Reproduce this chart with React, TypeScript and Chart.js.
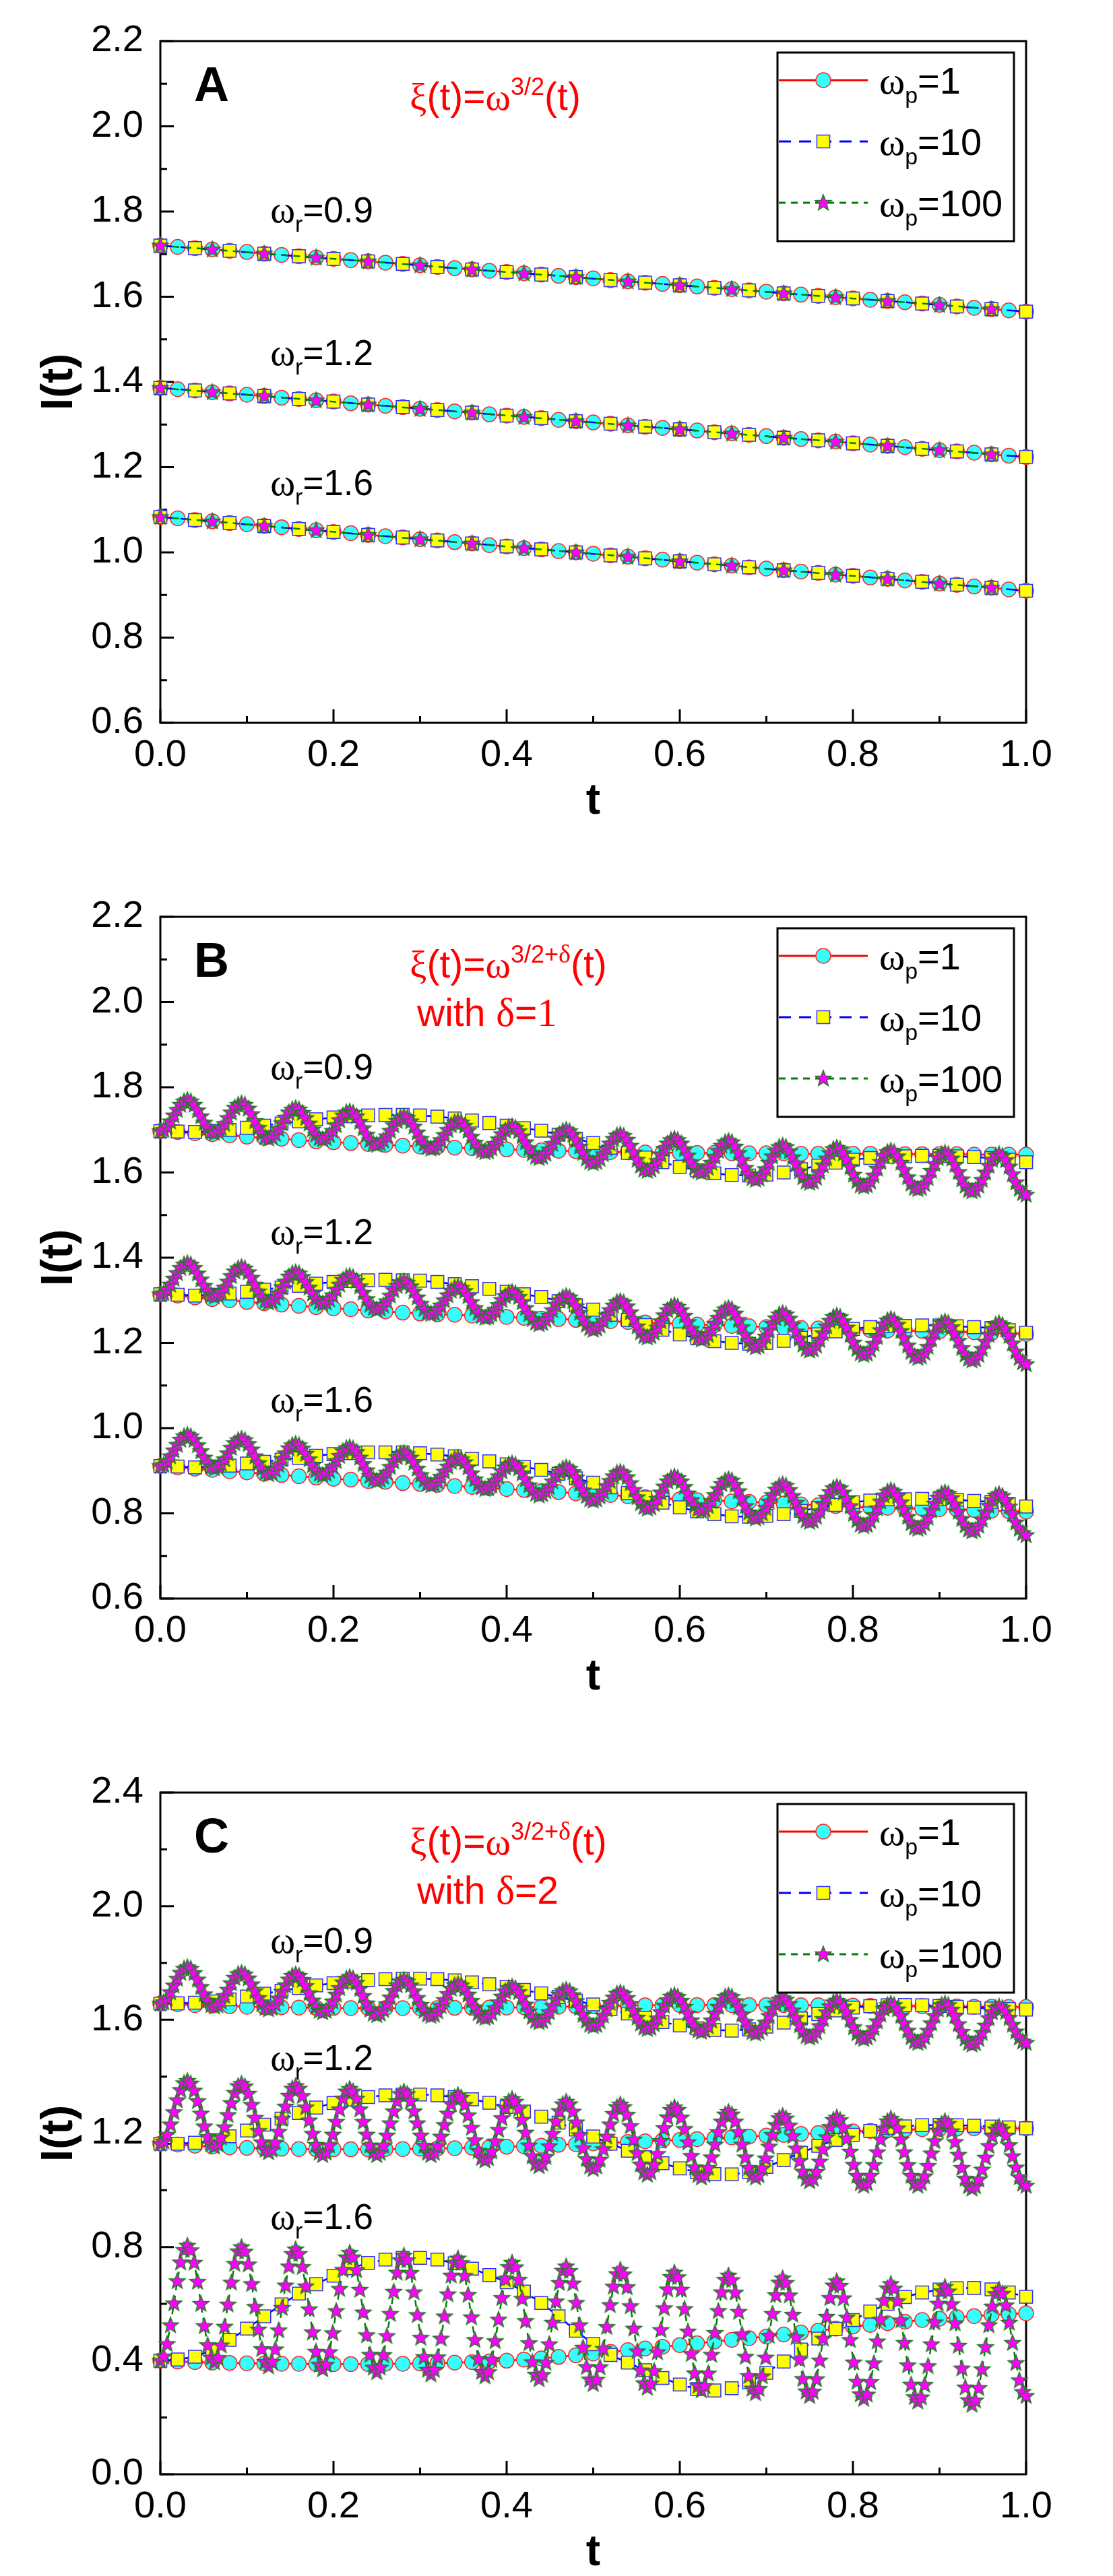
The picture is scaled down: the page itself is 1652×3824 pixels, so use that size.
import React, { useEffect, useRef } from 'react'
import { Chart, registerables } from 'chart.js'
import { drawPoint } from 'chart.js/helpers'

Chart.register(...registerables)

const SANS = '"Liberation Sans", Arial, sans-serif'
const SERIF = '"Liberation Serif", "Times New Roman", serif'

// sampling grids in t
const grid = (h: number, n: number) => Array.from({ length: n }, (_, i) => Math.round(i * h * 1e6) / 1e6)
const T_02 = grid(0.02, 51)
const T_04 = grid(0.04, 26)
const T_06 = grid(0.06, 17)
const T_STAR = grid(1 / 256, 257)

const OMEGA_P = ['1', '10', '100']
const OMEGA_R = ['0.9', '1.2', '1.6']

// ---------- panel A : xi = w^{3/2}
const A_CIRCLE_09 = [
  1.720, 1.717, 1.714, 1.711, 1.708, 1.705, 1.701, 1.698, 1.695, 1.692,
  1.689, 1.686, 1.683, 1.680, 1.677, 1.674, 1.670, 1.667, 1.664, 1.661,
  1.658, 1.655, 1.652, 1.649, 1.646, 1.643, 1.639, 1.636, 1.633, 1.630,
  1.627, 1.624, 1.621, 1.618, 1.615, 1.612, 1.608, 1.605, 1.602, 1.599,
  1.596, 1.593, 1.590, 1.587, 1.584, 1.581, 1.577, 1.574, 1.571, 1.568,
  1.565,
]
const A_SQUARE_09 = [
  1.720, 1.714, 1.708, 1.701, 1.695, 1.689, 1.683, 1.677, 1.670, 1.664,
  1.658, 1.652, 1.646, 1.639, 1.633, 1.627, 1.621, 1.615, 1.608, 1.602,
  1.596, 1.590, 1.584, 1.577, 1.571, 1.565,
]
const A_STAR_09 = [
  1.720, 1.711, 1.701, 1.692, 1.683, 1.674, 1.664, 1.655, 1.646, 1.636,
  1.627, 1.618, 1.608, 1.599, 1.590, 1.581, 1.571,
]
const A_CIRCLE_12 = [
  1.386, 1.383, 1.380, 1.376, 1.373, 1.370, 1.367, 1.363, 1.360, 1.357,
  1.354, 1.350, 1.347, 1.344, 1.341, 1.337, 1.334, 1.331, 1.328, 1.324,
  1.321, 1.318, 1.315, 1.311, 1.308, 1.305, 1.302, 1.298, 1.295, 1.292,
  1.289, 1.286, 1.282, 1.279, 1.276, 1.273, 1.269, 1.266, 1.263, 1.260,
  1.256, 1.253, 1.250, 1.247, 1.243, 1.240, 1.237, 1.234, 1.230, 1.227,
  1.224,
]
const A_SQUARE_12 = [
  1.386, 1.380, 1.373, 1.367, 1.360, 1.354, 1.347, 1.341, 1.334, 1.328,
  1.321, 1.315, 1.308, 1.302, 1.295, 1.289, 1.282, 1.276, 1.269, 1.263,
  1.256, 1.250, 1.243, 1.237, 1.230, 1.224,
]
const A_STAR_12 = [
  1.386, 1.376, 1.367, 1.357, 1.347, 1.337, 1.328, 1.318, 1.308, 1.298,
  1.289, 1.279, 1.269, 1.260, 1.250, 1.240, 1.230,
]
const A_CIRCLE_16 = [
  1.083, 1.080, 1.076, 1.073, 1.069, 1.066, 1.062, 1.059, 1.055, 1.052,
  1.048, 1.045, 1.041, 1.038, 1.035, 1.031, 1.028, 1.024, 1.021, 1.017,
  1.014, 1.010, 1.007, 1.003, 1.000, 0.997, 0.993, 0.990, 0.986, 0.983,
  0.979, 0.976, 0.972, 0.969, 0.965, 0.962, 0.958, 0.955, 0.952, 0.948,
  0.945, 0.941, 0.938, 0.934, 0.931, 0.927, 0.924, 0.920, 0.917, 0.913,
  0.910,
]
const A_SQUARE_16 = [
  1.083, 1.076, 1.069, 1.062, 1.055, 1.048, 1.041, 1.035, 1.028, 1.021,
  1.014, 1.007, 1.000, 0.993, 0.986, 0.979, 0.972, 0.965, 0.958, 0.952,
  0.945, 0.938, 0.931, 0.924, 0.917, 0.910,
]
const A_STAR_16 = [
  1.083, 1.073, 1.062, 1.052, 1.041, 1.031, 1.021, 1.010, 1.000, 0.990,
  0.979, 0.969, 0.958, 0.948, 0.938, 0.927, 0.917,
]

// ---------- panel B : delta = 1
const B_CIRCLE_09 = [
  1.697, 1.695, 1.692, 1.690, 1.687, 1.684, 1.681, 1.679, 1.676, 1.673,
  1.671, 1.669, 1.667, 1.665, 1.663, 1.661, 1.660, 1.658, 1.657, 1.655,
  1.654, 1.653, 1.652, 1.651, 1.650, 1.649, 1.648, 1.648, 1.647, 1.647,
  1.646, 1.646, 1.646, 1.645, 1.645, 1.645, 1.645, 1.644, 1.644, 1.644,
  1.644, 1.644, 1.643, 1.643, 1.643, 1.643, 1.643, 1.642, 1.642, 1.642,
  1.642,
]
const B_CIRCLE_12 = [
  1.314, 1.311, 1.307, 1.303, 1.300, 1.296, 1.293, 1.290, 1.287, 1.284,
  1.281, 1.279, 1.276, 1.274, 1.271, 1.269, 1.267, 1.266, 1.264, 1.263,
  1.261, 1.259, 1.257, 1.256, 1.254, 1.252, 1.251, 1.249, 1.248, 1.246,
  1.245, 1.243, 1.242, 1.240, 1.239, 1.237, 1.236, 1.235, 1.234, 1.232,
  1.231, 1.230, 1.229, 1.229, 1.228, 1.227, 1.226, 1.225, 1.223, 1.222,
  1.221,
]
const B_CIRCLE_16 = [
  0.911, 0.908, 0.905, 0.902, 0.899, 0.896, 0.893, 0.890, 0.887, 0.884,
  0.881, 0.879, 0.876, 0.874, 0.871, 0.869, 0.867, 0.864, 0.862, 0.859,
  0.857, 0.855, 0.852, 0.850, 0.847, 0.845, 0.843, 0.840, 0.838, 0.835,
  0.833, 0.831, 0.830, 0.828, 0.827, 0.825, 0.823, 0.821, 0.819, 0.817,
  0.815, 0.814, 0.813, 0.812, 0.811, 0.810, 0.809, 0.808, 0.806, 0.805,
  0.804,
]
const B_SQUARE_09 = [
  1.697, 1.696, 1.695, 1.697, 1.700, 1.705, 1.710, 1.715, 1.720, 1.725,
  1.729, 1.732, 1.734, 1.735, 1.735, 1.734, 1.731, 1.727, 1.722, 1.716,
  1.710, 1.704, 1.698, 1.689, 1.679, 1.669, 1.658, 1.646, 1.635, 1.624,
  1.613, 1.605, 1.598, 1.594, 1.593, 1.595, 1.600, 1.608, 1.616, 1.623,
  1.630, 1.634, 1.637, 1.638, 1.639, 1.639, 1.638, 1.636, 1.634, 1.630,
  1.624,
]
const B_SQUARE_12 = [
  1.314, 1.313, 1.311, 1.313, 1.316, 1.320, 1.325, 1.330, 1.334, 1.339,
  1.343, 1.345, 1.347, 1.348, 1.347, 1.346, 1.343, 1.338, 1.333, 1.327,
  1.320, 1.314, 1.308, 1.298, 1.288, 1.278, 1.266, 1.254, 1.242, 1.231,
  1.220, 1.211, 1.204, 1.200, 1.198, 1.200, 1.205, 1.212, 1.220, 1.227,
  1.233, 1.237, 1.240, 1.240, 1.241, 1.241, 1.239, 1.237, 1.235, 1.230,
  1.224,
]
const B_SQUARE_16 = [
  0.911, 0.910, 0.908, 0.910, 0.912, 0.917, 0.921, 0.926, 0.930, 0.935,
  0.939, 0.941, 0.943, 0.943, 0.943, 0.941, 0.938, 0.934, 0.928, 0.922,
  0.915, 0.909, 0.902, 0.893, 0.882, 0.872, 0.861, 0.848, 0.837, 0.825,
  0.814, 0.805, 0.798, 0.793, 0.792, 0.794, 0.798, 0.806, 0.813, 0.820,
  0.826, 0.830, 0.833, 0.833, 0.834, 0.833, 0.832, 0.829, 0.827, 0.822,
  0.816,
]
// stars: 16 samples per fast oscillation
const B_STAR_09 = [
  1.697, 1.700, 1.708, 1.720, 1.734, 1.747, 1.759, 1.767, 1.770, 1.767, 1.759, 1.746, 1.732, 1.717, 1.704, 1.696,
  1.693, 1.696, 1.703, 1.714, 1.728, 1.741, 1.752, 1.759, 1.762, 1.759, 1.750, 1.737, 1.721, 1.705, 1.692, 1.683,
  1.680, 1.683, 1.690, 1.702, 1.716, 1.729, 1.741, 1.748, 1.751, 1.748, 1.740, 1.728, 1.715, 1.701, 1.689, 1.681,
  1.678, 1.681, 1.688, 1.698, 1.711, 1.723, 1.734, 1.741, 1.743, 1.740, 1.732, 1.719, 1.704, 1.689, 1.676, 1.668,
  1.665, 1.668, 1.675, 1.685, 1.698, 1.711, 1.721, 1.729, 1.731, 1.728, 1.720, 1.708, 1.694, 1.679, 1.667, 1.659,
  1.656, 1.658, 1.665, 1.676, 1.688, 1.700, 1.711, 1.718, 1.720, 1.717, 1.710, 1.698, 1.684, 1.670, 1.659, 1.651,
  1.648, 1.650, 1.657, 1.667, 1.678, 1.690, 1.699, 1.706, 1.708, 1.705, 1.697, 1.685, 1.671, 1.657, 1.645, 1.637,
  1.634, 1.637, 1.644, 1.654, 1.667, 1.680, 1.690, 1.697, 1.700, 1.697, 1.689, 1.676, 1.661, 1.646, 1.633, 1.625,
  1.622, 1.625, 1.632, 1.643, 1.656, 1.668, 1.679, 1.687, 1.689, 1.686, 1.677, 1.663, 1.647, 1.630, 1.616, 1.607,
  1.604, 1.607, 1.615, 1.627, 1.642, 1.656, 1.668, 1.676, 1.679, 1.676, 1.668, 1.655, 1.640, 1.624, 1.612, 1.603,
  1.600, 1.603, 1.611, 1.623, 1.637, 1.651, 1.663, 1.671, 1.674, 1.671, 1.661, 1.646, 1.629, 1.611, 1.596, 1.587,
  1.583, 1.586, 1.595, 1.608, 1.623, 1.638, 1.651, 1.660, 1.663, 1.660, 1.650, 1.636, 1.620, 1.603, 1.589, 1.579,
  1.576, 1.579, 1.588, 1.601, 1.617, 1.633, 1.646, 1.655, 1.658, 1.655, 1.645, 1.630, 1.613, 1.595, 1.580, 1.570,
  1.567, 1.570, 1.579, 1.593, 1.609, 1.625, 1.639, 1.648, 1.651, 1.648, 1.638, 1.623, 1.606, 1.589, 1.574, 1.564,
  1.561, 1.564, 1.573, 1.587, 1.604, 1.620, 1.634, 1.643, 1.646, 1.643, 1.633, 1.618, 1.601, 1.584, 1.569, 1.559,
  1.556, 1.559, 1.569, 1.583, 1.600, 1.616, 1.630, 1.640, 1.643, 1.639, 1.629, 1.614, 1.596, 1.577, 1.562, 1.552,
  1.548,
]
const B_STAR_12 = [
  1.314, 1.317, 1.325, 1.337, 1.351, 1.364, 1.376, 1.384, 1.387, 1.384, 1.376, 1.363, 1.349, 1.334, 1.321, 1.313,
  1.309, 1.312, 1.319, 1.330, 1.344, 1.357, 1.368, 1.375, 1.378, 1.375, 1.366, 1.353, 1.337, 1.321, 1.308, 1.299,
  1.295, 1.298, 1.305, 1.317, 1.331, 1.344, 1.356, 1.363, 1.366, 1.363, 1.355, 1.343, 1.330, 1.316, 1.304, 1.296,
  1.292, 1.295, 1.302, 1.312, 1.325, 1.337, 1.348, 1.355, 1.357, 1.354, 1.346, 1.333, 1.318, 1.303, 1.290, 1.282,
  1.278, 1.281, 1.288, 1.298, 1.311, 1.324, 1.334, 1.342, 1.344, 1.341, 1.333, 1.321, 1.307, 1.292, 1.280, 1.272,
  1.268, 1.270, 1.277, 1.288, 1.300, 1.312, 1.323, 1.330, 1.332, 1.329, 1.322, 1.310, 1.296, 1.282, 1.271, 1.263,
  1.259, 1.261, 1.268, 1.278, 1.289, 1.301, 1.310, 1.317, 1.319, 1.316, 1.308, 1.296, 1.282, 1.268, 1.256, 1.248,
  1.244, 1.247, 1.254, 1.264, 1.277, 1.290, 1.300, 1.307, 1.310, 1.307, 1.299, 1.286, 1.271, 1.256, 1.243, 1.235,
  1.231, 1.234, 1.241, 1.252, 1.265, 1.277, 1.288, 1.296, 1.298, 1.295, 1.286, 1.272, 1.256, 1.239, 1.225, 1.216,
  1.213, 1.216, 1.224, 1.236, 1.251, 1.265, 1.277, 1.285, 1.288, 1.285, 1.277, 1.264, 1.249, 1.233, 1.221, 1.212,
  1.208, 1.211, 1.219, 1.231, 1.245, 1.259, 1.271, 1.279, 1.282, 1.279, 1.269, 1.254, 1.237, 1.219, 1.204, 1.195,
  1.190, 1.193, 1.202, 1.215, 1.230, 1.245, 1.258, 1.267, 1.270, 1.267, 1.257, 1.243, 1.227, 1.210, 1.196, 1.186,
  1.182, 1.185, 1.194, 1.207, 1.223, 1.239, 1.252, 1.261, 1.264, 1.261, 1.251, 1.236, 1.219, 1.201, 1.186, 1.176,
  1.172, 1.175, 1.184, 1.198, 1.214, 1.230, 1.244, 1.253, 1.256, 1.253, 1.243, 1.228, 1.211, 1.194, 1.179, 1.169,
  1.165, 1.168, 1.177, 1.191, 1.208, 1.224, 1.238, 1.247, 1.250, 1.247, 1.237, 1.222, 1.205, 1.188, 1.173, 1.163,
  1.159, 1.162, 1.172, 1.186, 1.203, 1.219, 1.233, 1.243, 1.246, 1.242, 1.232, 1.217, 1.199, 1.180, 1.165, 1.155,
  1.150,
]
const B_STAR_16 = [
  0.911, 0.914, 0.922, 0.934, 0.948, 0.961, 0.973, 0.981, 0.984, 0.981, 0.973, 0.960, 0.946, 0.931, 0.918, 0.910,
  0.906, 0.909, 0.916, 0.927, 0.941, 0.954, 0.965, 0.972, 0.975, 0.972, 0.963, 0.950, 0.934, 0.918, 0.905, 0.896,
  0.892, 0.895, 0.902, 0.914, 0.928, 0.941, 0.953, 0.960, 0.963, 0.960, 0.952, 0.940, 0.927, 0.913, 0.901, 0.893,
  0.890, 0.893, 0.900, 0.910, 0.923, 0.935, 0.946, 0.953, 0.955, 0.952, 0.944, 0.931, 0.916, 0.901, 0.888, 0.880,
  0.876, 0.879, 0.886, 0.896, 0.909, 0.922, 0.932, 0.940, 0.942, 0.939, 0.931, 0.919, 0.905, 0.890, 0.878, 0.870,
  0.866, 0.868, 0.875, 0.886, 0.898, 0.910, 0.921, 0.928, 0.930, 0.927, 0.920, 0.908, 0.894, 0.880, 0.869, 0.861,
  0.857, 0.859, 0.866, 0.876, 0.887, 0.899, 0.908, 0.915, 0.917, 0.914, 0.906, 0.894, 0.880, 0.866, 0.854, 0.846,
  0.842, 0.845, 0.852, 0.862, 0.875, 0.888, 0.898, 0.905, 0.908, 0.905, 0.897, 0.884, 0.869, 0.854, 0.841, 0.833,
  0.830, 0.833, 0.840, 0.851, 0.864, 0.876, 0.887, 0.895, 0.897, 0.894, 0.885, 0.871, 0.855, 0.838, 0.824, 0.815,
  0.811, 0.814, 0.822, 0.834, 0.849, 0.863, 0.875, 0.883, 0.886, 0.883, 0.875, 0.862, 0.847, 0.831, 0.819, 0.810,
  0.806, 0.809, 0.817, 0.829, 0.843, 0.857, 0.869, 0.877, 0.880, 0.877, 0.867, 0.852, 0.835, 0.817, 0.802, 0.793,
  0.788, 0.791, 0.800, 0.813, 0.828, 0.843, 0.856, 0.865, 0.868, 0.865, 0.855, 0.841, 0.825, 0.808, 0.794, 0.784,
  0.780, 0.783, 0.792, 0.805, 0.821, 0.837, 0.850, 0.859, 0.862, 0.859, 0.849, 0.834, 0.817, 0.799, 0.784, 0.774,
  0.770, 0.773, 0.782, 0.796, 0.812, 0.828, 0.842, 0.851, 0.854, 0.851, 0.841, 0.826, 0.809, 0.792, 0.777, 0.767,
  0.764, 0.767, 0.776, 0.790, 0.807, 0.823, 0.837, 0.846, 0.849, 0.846, 0.836, 0.821, 0.804, 0.787, 0.772, 0.762,
  0.758, 0.761, 0.771, 0.785, 0.802, 0.818, 0.832, 0.842, 0.845, 0.841, 0.831, 0.816, 0.798, 0.779, 0.764, 0.754,
  0.749,
]

// ---------- panel C : delta = 2
const C_CIRCLE_09 = [
  1.657, 1.655, 1.652, 1.650, 1.648, 1.646, 1.645, 1.644, 1.643, 1.642,
  1.642, 1.641, 1.641, 1.641, 1.641, 1.641, 1.641, 1.642, 1.642, 1.643,
  1.643, 1.644, 1.645, 1.646, 1.647, 1.648, 1.649, 1.650, 1.651, 1.651,
  1.652, 1.652, 1.652, 1.652, 1.652, 1.652, 1.652, 1.651, 1.651, 1.650,
  1.650, 1.649, 1.649, 1.648, 1.648, 1.647, 1.647, 1.646, 1.646, 1.645,
  1.645,
]
const C_CIRCLE_12 = [
  1.164, 1.161, 1.157, 1.154, 1.151, 1.149, 1.147, 1.146, 1.145, 1.144,
  1.144, 1.144, 1.144, 1.145, 1.145, 1.146, 1.147, 1.148, 1.150, 1.151,
  1.153, 1.155, 1.157, 1.160, 1.162, 1.165, 1.167, 1.170, 1.172, 1.175,
  1.177, 1.180, 1.183, 1.186, 1.189, 1.192, 1.195, 1.198, 1.201, 1.204,
  1.207, 1.209, 1.211, 1.213, 1.215, 1.216, 1.217, 1.218, 1.218, 1.218,
  1.218,
]
const C_CIRCLE_16 = [
  0.400, 0.397, 0.395, 0.393, 0.392, 0.391, 0.390, 0.389, 0.389, 0.388,
  0.388, 0.388, 0.388, 0.389, 0.389, 0.390, 0.391, 0.393, 0.395, 0.397,
  0.400, 0.404, 0.408, 0.413, 0.419, 0.425, 0.431, 0.437, 0.443, 0.449,
  0.455, 0.461, 0.467, 0.473, 0.479, 0.485, 0.492, 0.499, 0.506, 0.513,
  0.520, 0.526, 0.532, 0.537, 0.543, 0.548, 0.553, 0.557, 0.561, 0.564,
  0.567,
]
const C_SQUARE_09 = [
  1.657, 1.658, 1.660, 1.665, 1.672, 1.682, 1.692, 1.702, 1.712, 1.721,
  1.729, 1.735, 1.740, 1.743, 1.745, 1.745, 1.743, 1.739, 1.732, 1.725,
  1.716, 1.705, 1.693, 1.680, 1.667, 1.654, 1.638, 1.622, 1.607, 1.592,
  1.580, 1.570, 1.564, 1.562, 1.566, 1.576, 1.590, 1.605, 1.620, 1.633,
  1.643, 1.648, 1.651, 1.652, 1.651, 1.649, 1.646, 1.643, 1.640, 1.638,
  1.636,
]
const C_SQUARE_12 = [
  1.164, 1.164, 1.167, 1.176, 1.190, 1.210, 1.231, 1.252, 1.272, 1.291,
  1.307, 1.319, 1.328, 1.334, 1.337, 1.337, 1.334, 1.328, 1.320, 1.308,
  1.293, 1.277, 1.259, 1.238, 1.214, 1.189, 1.164, 1.139, 1.116, 1.095,
  1.077, 1.064, 1.057, 1.056, 1.064, 1.082, 1.106, 1.132, 1.156, 1.177,
  1.195, 1.209, 1.219, 1.225, 1.229, 1.230, 1.229, 1.227, 1.224, 1.221,
  1.218,
]
const C_SQUARE_16 = [
  0.400, 0.404, 0.414, 0.437, 0.473, 0.513, 0.556, 0.598, 0.636, 0.669,
  0.699, 0.725, 0.744, 0.756, 0.762, 0.762, 0.756, 0.743, 0.724, 0.701,
  0.676, 0.643, 0.603, 0.556, 0.505, 0.458, 0.420, 0.393, 0.366, 0.339,
  0.316, 0.300, 0.295, 0.303, 0.324, 0.357, 0.397, 0.439, 0.478, 0.512,
  0.543, 0.573, 0.600, 0.624, 0.640, 0.650, 0.655, 0.656, 0.651, 0.640,
  0.625,
]
const C_STAR_09 = [
  1.657, 1.662, 1.676, 1.697, 1.721, 1.745, 1.766, 1.780, 1.785, 1.780, 1.765, 1.742, 1.716, 1.690, 1.667, 1.652,
  1.647, 1.651, 1.664, 1.684, 1.706, 1.729, 1.748, 1.761, 1.765, 1.760, 1.746, 1.725, 1.701, 1.677, 1.656, 1.642,
  1.637, 1.642, 1.655, 1.675, 1.699, 1.722, 1.742, 1.755, 1.760, 1.755, 1.741, 1.719, 1.694, 1.668, 1.646, 1.632,
  1.627, 1.632, 1.645, 1.665, 1.689, 1.712, 1.732, 1.745, 1.750, 1.745, 1.731, 1.709, 1.684, 1.658, 1.636, 1.622,
  1.617, 1.622, 1.635, 1.655, 1.679, 1.702, 1.722, 1.735, 1.740, 1.735, 1.722, 1.701, 1.677, 1.653, 1.632, 1.619,
  1.614, 1.618, 1.630, 1.649, 1.670, 1.691, 1.710, 1.722, 1.726, 1.722, 1.709, 1.689, 1.667, 1.644, 1.624, 1.612,
  1.607, 1.611, 1.623, 1.641, 1.662, 1.682, 1.700, 1.712, 1.716, 1.711, 1.698, 1.678, 1.654, 1.630, 1.610, 1.597,
  1.592, 1.596, 1.609, 1.627, 1.649, 1.671, 1.689, 1.702, 1.706, 1.701, 1.687, 1.666, 1.642, 1.618, 1.597, 1.583,
  1.578, 1.582, 1.595, 1.615, 1.637, 1.660, 1.679, 1.692, 1.696, 1.691, 1.677, 1.656, 1.632, 1.608, 1.587, 1.573,
  1.568, 1.572, 1.585, 1.605, 1.627, 1.650, 1.669, 1.682, 1.686, 1.681, 1.667, 1.646, 1.622, 1.598, 1.577, 1.563,
  1.558, 1.563, 1.577, 1.598, 1.622, 1.646, 1.667, 1.681, 1.686, 1.681, 1.666, 1.645, 1.619, 1.593, 1.572, 1.557,
  1.552, 1.557, 1.570, 1.590, 1.614, 1.638, 1.658, 1.671, 1.676, 1.671, 1.656, 1.633, 1.607, 1.581, 1.558, 1.543,
  1.538, 1.543, 1.557, 1.578, 1.603, 1.627, 1.648, 1.662, 1.667, 1.662, 1.647, 1.626, 1.600, 1.574, 1.553, 1.538,
  1.533, 1.538, 1.551, 1.571, 1.595, 1.619, 1.639, 1.652, 1.657, 1.652, 1.637, 1.614, 1.588, 1.562, 1.539, 1.524,
  1.519, 1.524, 1.539, 1.562, 1.588, 1.614, 1.637, 1.652, 1.657, 1.652, 1.636, 1.613, 1.585, 1.558, 1.534, 1.519,
  1.513, 1.518, 1.533, 1.554, 1.580, 1.606, 1.627, 1.642, 1.647, 1.642, 1.628, 1.607, 1.583, 1.559, 1.538, 1.524,
  1.519,
]
const C_STAR_12 = [
  1.164, 1.172, 1.196, 1.232, 1.275, 1.317, 1.353, 1.377, 1.385, 1.376, 1.351, 1.314, 1.270, 1.225, 1.188, 1.163,
  1.154, 1.162, 1.186, 1.222, 1.265, 1.307, 1.343, 1.367, 1.375, 1.366, 1.340, 1.301, 1.255, 1.209, 1.169, 1.143,
  1.134, 1.143, 1.168, 1.206, 1.251, 1.295, 1.333, 1.358, 1.367, 1.358, 1.332, 1.292, 1.246, 1.199, 1.160, 1.133,
  1.124, 1.133, 1.158, 1.196, 1.241, 1.285, 1.323, 1.348, 1.357, 1.348, 1.323, 1.285, 1.241, 1.196, 1.158, 1.133,
  1.124, 1.132, 1.157, 1.193, 1.236, 1.278, 1.314, 1.339, 1.347, 1.339, 1.314, 1.278, 1.236, 1.193, 1.157, 1.132,
  1.124, 1.132, 1.155, 1.189, 1.230, 1.270, 1.304, 1.327, 1.335, 1.326, 1.301, 1.264, 1.220, 1.176, 1.139, 1.114,
  1.105, 1.113, 1.137, 1.172, 1.213, 1.254, 1.290, 1.313, 1.321, 1.312, 1.287, 1.248, 1.203, 1.158, 1.120, 1.094,
  1.085, 1.094, 1.118, 1.155, 1.199, 1.242, 1.279, 1.303, 1.312, 1.303, 1.277, 1.239, 1.194, 1.148, 1.110, 1.084,
  1.075, 1.084, 1.108, 1.145, 1.189, 1.232, 1.269, 1.293, 1.302, 1.293, 1.266, 1.226, 1.179, 1.131, 1.091, 1.064,
  1.055, 1.064, 1.090, 1.128, 1.174, 1.219, 1.257, 1.283, 1.292, 1.283, 1.256, 1.216, 1.169, 1.121, 1.081, 1.054,
  1.045, 1.054, 1.079, 1.116, 1.161, 1.205, 1.242, 1.267, 1.276, 1.267, 1.242, 1.205, 1.161, 1.116, 1.079, 1.054,
  1.045, 1.053, 1.077, 1.112, 1.154, 1.195, 1.230, 1.254, 1.262, 1.253, 1.228, 1.191, 1.147, 1.103, 1.066, 1.041,
  1.032, 1.041, 1.065, 1.101, 1.144, 1.187, 1.223, 1.248, 1.256, 1.247, 1.221, 1.182, 1.136, 1.090, 1.051, 1.025,
  1.016, 1.025, 1.051, 1.089, 1.134, 1.179, 1.218, 1.243, 1.252, 1.243, 1.218, 1.179, 1.134, 1.089, 1.051, 1.025,
  1.016, 1.025, 1.049, 1.086, 1.130, 1.173, 1.210, 1.234, 1.243, 1.234, 1.208, 1.170, 1.125, 1.079, 1.041, 1.015,
  1.006, 1.014, 1.038, 1.073, 1.115, 1.156, 1.191, 1.215, 1.223, 1.215, 1.193, 1.159, 1.120, 1.080, 1.046, 1.024,
  1.016,
]
const C_STAR_16 = [
  0.400, 0.415, 0.459, 0.525, 0.602, 0.680, 0.746, 0.790, 0.805, 0.789, 0.745, 0.678, 0.600, 0.522, 0.455, 0.411,
  0.395, 0.410, 0.454, 0.520, 0.598, 0.675, 0.741, 0.785, 0.800, 0.784, 0.739, 0.670, 0.590, 0.510, 0.441, 0.396,
  0.380, 0.396, 0.440, 0.507, 0.586, 0.665, 0.732, 0.776, 0.792, 0.776, 0.730, 0.662, 0.581, 0.500, 0.432, 0.386,
  0.370, 0.386, 0.430, 0.497, 0.575, 0.653, 0.720, 0.764, 0.780, 0.764, 0.719, 0.650, 0.570, 0.490, 0.421, 0.376,
  0.360, 0.376, 0.420, 0.487, 0.565, 0.643, 0.710, 0.754, 0.770, 0.754, 0.709, 0.641, 0.561, 0.481, 0.413, 0.368,
  0.352, 0.368, 0.412, 0.478, 0.556, 0.634, 0.700, 0.745, 0.760, 0.744, 0.699, 0.632, 0.553, 0.473, 0.406, 0.361,
  0.345, 0.360, 0.403, 0.469, 0.545, 0.621, 0.687, 0.730, 0.745, 0.729, 0.685, 0.618, 0.540, 0.462, 0.395, 0.351,
  0.335, 0.350, 0.393, 0.458, 0.534, 0.609, 0.674, 0.717, 0.732, 0.716, 0.672, 0.604, 0.525, 0.446, 0.378, 0.334,
  0.318, 0.333, 0.377, 0.442, 0.519, 0.596, 0.661, 0.705, 0.720, 0.704, 0.659, 0.592, 0.513, 0.433, 0.366, 0.321,
  0.305, 0.320, 0.364, 0.430, 0.508, 0.585, 0.651, 0.695, 0.710, 0.694, 0.650, 0.582, 0.503, 0.424, 0.356, 0.312,
  0.296, 0.311, 0.355, 0.421, 0.498, 0.575, 0.641, 0.685, 0.700, 0.684, 0.640, 0.572, 0.493, 0.414, 0.346, 0.302,
  0.286, 0.301, 0.345, 0.411, 0.488, 0.565, 0.631, 0.675, 0.690, 0.674, 0.630, 0.562, 0.483, 0.404, 0.336, 0.292,
  0.276, 0.291, 0.335, 0.401, 0.478, 0.555, 0.621, 0.665, 0.680, 0.664, 0.620, 0.552, 0.473, 0.394, 0.326, 0.282,
  0.266, 0.281, 0.325, 0.391, 0.468, 0.545, 0.611, 0.655, 0.670, 0.654, 0.610, 0.542, 0.463, 0.384, 0.316, 0.272,
  0.256, 0.271, 0.315, 0.381, 0.458, 0.535, 0.601, 0.645, 0.660, 0.644, 0.599, 0.532, 0.453, 0.373, 0.306, 0.261,
  0.245, 0.260, 0.304, 0.370, 0.448, 0.525, 0.591, 0.635, 0.650, 0.636, 0.595, 0.534, 0.463, 0.392, 0.331, 0.290,
  0.276,
]

// ---------- drawing helpers
type Run = { s: string; size: number; serif?: boolean; bold?: boolean; dy?: number }

const drawRuns = (ctx: CanvasRenderingContext2D, x: number, y: number, runs: Run[]) => {
  let cx = x
  for (const r of runs) {
    ctx.font = `${r.bold ? 'bold ' : ''}${r.size}px ${r.serif ? SERIF : SANS}`
    ctx.fillText(r.s, cx, y + (r.dy ?? 0))
    cx += ctx.measureText(r.s).width
  }
}

const makeStar = () => {
  const c = document.createElement('canvas')
  c.width = 28
  c.height = 28
  const g = c.getContext('2d')!
  g.beginPath()
  for (let i = 0; i < 10; i++) {
    const r = i % 2 ? 5.3 : 12.5
    const a = -Math.PI / 2 + (i * Math.PI) / 5
    g.lineTo(14 + r * Math.cos(a), 14.5 + r * Math.sin(a))
  }
  g.closePath()
  g.fillStyle = '#FF00FF'
  g.fill()
  g.lineWidth = 1.5
  g.strokeStyle = '#1E7B1E'
  g.stroke()
  return c
}
const STAR = makeStar()

const STYLES = [
  { line: '#FF0000', dash: [] as number[], fill: '#33FFFF', edge: '#FF2A2A', point: 'circle' as any, radius: 11, order: 2 },
  { line: '#0000FF', dash: [18, 12], fill: '#FFFF00', edge: '#3030FF', point: 'rect' as any, radius: 13.5, order: 1 },
  { line: '#008000', dash: [10, 8], fill: '#FF00FF', edge: '#1E7B1E', point: STAR as any, radius: 12, order: 0 },
]

type Panel = {
  letter: string
  height: number
  yMin: number
  yMax: number
  yStep: number
  formula: Run[]
  formulaDy: number
  second?: Run[]
  secondDy?: number
  labelY: number[]
  grids: number[][]
  series: number[][][] // [omega_r][omega_p] values
}

const F = 57
const formulaHead: Run[] = [
  { s: 'ξ', size: F, serif: true },
  { s: '(t)=', size: F },
  { s: 'ω', size: F, serif: true },
]

const PANELS: Panel[] = [
  {
    letter: 'A', height: 1300, yMin: 0.6, yMax: 2.2, yStep: 0.2,
    formula: [...formulaHead, { s: '3/2', size: 36, dy: -22 }, { s: '(t)', size: F }],
    formulaDy: 102,
    labelY: [1.774, 1.44, 1.134],
    grids: [T_02, T_04, T_06],
    series: [
      [A_CIRCLE_09, A_SQUARE_09, A_STAR_09],
      [A_CIRCLE_12, A_SQUARE_12, A_STAR_12],
      [A_CIRCLE_16, A_SQUARE_16, A_STAR_16],
    ],
  },
  {
    letter: 'B', height: 1300, yMin: 0.6, yMax: 2.2, yStep: 0.2,
    formula: [...formulaHead, { s: '3/2+', size: 36, dy: -22 }, { s: 'δ', size: 38, serif: true, dy: -22 }, { s: '(t)', size: F }],
    formulaDy: 90,
    second: [{ s: 'with ', size: F }, { s: 'δ', size: F + 2, serif: true }, { s: '=', size: F }, { s: '1', size: F + 2, serif: true }],
    secondDy: 162,
    labelY: [1.819, 1.431, 1.038],
    grids: [T_02, T_02, T_STAR],
    series: [
      [B_CIRCLE_09, B_SQUARE_09, B_STAR_09],
      [B_CIRCLE_12, B_SQUARE_12, B_STAR_12],
      [B_CIRCLE_16, B_SQUARE_16, B_STAR_16],
    ],
  },
  {
    letter: 'C', height: 1208, yMin: 0, yMax: 2.4, yStep: 0.4,
    formula: [...formulaHead, { s: '3/2+', size: 36, dy: -22 }, { s: 'δ', size: 38, serif: true, dy: -22 }, { s: '(t)', size: F }],
    formulaDy: 92,
    second: [{ s: 'with ', size: F }, { s: 'δ', size: F + 2, serif: true }, { s: '=2', size: F }],
    secondDy: 165,
    labelY: [1.835, 1.424, 0.864],
    grids: [T_02, T_02, T_STAR],
    series: [
      [C_CIRCLE_09, C_SQUARE_09, C_STAR_09],
      [C_CIRCLE_12, C_SQUARE_12, C_STAR_12],
      [C_CIRCLE_16, C_SQUARE_16, C_STAR_16],
    ],
  },
]

const WIDTH = 1636
const PLOT_TOP = 31
const PLOT_H = 1034
const PLOT_LEFT = 230
const PLOT_RIGHT = 1515

const PanelChart = ({ p }: { p: Panel }) => {
  const ref = useRef<HTMLCanvasElement | null>(null)

  useEffect(() => {
    if (!ref.current) return
    const H = p.height
    const plotBottom = PLOT_TOP + PLOT_H

    const datasets: any[] = []
    p.series.forEach((row) => {
      row.forEach((ys, k) => {
        const st = STYLES[k]
        datasets.push({
          data: p.grids[k].map((t, i) => ({ x: t, y: ys[i] })),
          borderColor: st.line,
          borderWidth: 2.5,
          borderDash: st.dash,
          pointStyle: st.point,
          pointRadius: st.radius,
          pointBackgroundColor: st.fill,
          pointBorderColor: st.edge,
          pointBorderWidth: 1.5,
          order: st.order,
          clip: false,
        })
      })
    })

    const decor = {
      id: 'decor',
      beforeDatasetsDraw(chart: Chart) {
        const { ctx, chartArea: a, scales } = chart
        ctx.save()
        ctx.strokeStyle = '#000'
        ctx.lineWidth = 3
        ctx.strokeRect(a.left, a.top, a.right - a.left, a.bottom - a.top)
        ctx.beginPath()
        for (let i = 0; i <= 10; i++) {
          const px = scales.x.getPixelForValue(i / 10)
          ctx.moveTo(px, a.bottom)
          ctx.lineTo(px, a.bottom - (i % 2 ? 10 : 20))
        }
        const n = Math.round((p.yMax - p.yMin) / (p.yStep / 2))
        for (let i = 0; i <= n; i++) {
          const py = scales.y.getPixelForValue(p.yMin + (i * p.yStep) / 2)
          ctx.moveTo(a.left, py)
          ctx.lineTo(a.left + (i % 2 ? 10 : 20), py)
        }
        ctx.stroke()
        ctx.restore()
      },
      afterDatasetsDraw(chart: Chart) {
        const { ctx, chartArea: a, scales } = chart
        ctx.save()
        ctx.textBaseline = 'alphabetic'
        ctx.textAlign = 'left'

        // panel letter
        ctx.fillStyle = '#000'
        ctx.font = `bold 72px ${SANS}`
        ctx.fillText(p.letter, a.left + 50, a.top + 89)

        // formula in red
        ctx.fillStyle = '#FF0000'
        drawRuns(ctx, a.left + 370, a.top + p.formulaDy, p.formula)
        if (p.second) drawRuns(ctx, a.left + 381, a.top + (p.secondDy ?? 0), p.second)

        // omega_r labels
        ctx.fillStyle = '#000'
        OMEGA_R.forEach((w, i) => {
          drawRuns(ctx, scales.x.getPixelForValue(0.127), scales.y.getPixelForValue(p.labelY[i]), [
            { s: 'ω', size: 56, serif: true },
            { s: 'r', size: 34, dy: 14 },
            { s: '=' + w, size: 53 },
          ])
        })

        // legend box
        const lx = a.right - 369
        const ly = a.top + 17
        ctx.fillStyle = '#fff'
        ctx.fillRect(lx, ly, 351, 280)
        ctx.strokeStyle = '#000'
        ctx.lineWidth = 3
        ctx.strokeRect(lx, ly, 351, 280)
        STYLES.forEach((st, i) => {
          const cy = ly + 41 + i * 91
          ctx.strokeStyle = st.line
          ctx.lineWidth = 3
          ctx.setLineDash(st.dash)
          ctx.beginPath()
          ctx.moveTo(lx + 2, cy)
          ctx.lineTo(lx + 134, cy)
          ctx.stroke()
          ctx.setLineDash([])
          ctx.fillStyle = st.fill
          ctx.strokeStyle = st.edge
          ctx.lineWidth = 1.5
          drawPoint(ctx, { pointStyle: st.point, radius: st.radius, rotation: 0, borderWidth: 1.5 } as any, lx + 68, cy)
          ctx.fillStyle = '#000'
          drawRuns(ctx, lx + 151, cy + 20, [
            { s: 'ω', size: 58, serif: true },
            { s: 'p', size: 34, dy: 14 },
            { s: '=' + OMEGA_P[i], size: 56 },
          ])
        })
        ctx.restore()
      },
    }

    const chart = new Chart(ref.current, {
      type: 'line',
      data: { datasets },
      options: {
        animation: false,
        responsive: false,
        devicePixelRatio: 1,
        layout: { padding: { top: PLOT_TOP, right: WIDTH - PLOT_RIGHT, left: 0, bottom: 0 } },
        plugins: { legend: { display: false }, tooltip: { enabled: false } },
        scales: {
          x: {
            type: 'linear',
            min: 0,
            max: 1,
            grid: { display: false, drawTicks: false },
            border: { display: false },
            ticks: {
              stepSize: 0.2,
              padding: 21,
              color: '#000',
              maxRotation: 0,
              autoSkip: false,
              font: { family: SANS, size: 56, lineHeight: 1 },
              callback: (v: any) => Number(v).toFixed(1),
            },
            title: {
              display: true,
              text: 't',
              color: '#000',
              font: { family: SANS, size: 64, weight: 'bold', lineHeight: 1 },
              padding: { top: 0, bottom: H - 32 - (plotBottom + 117) },
            },
            afterFit: (s: any) => {
              s.height = H - plotBottom
            },
          },
          y: {
            type: 'linear',
            min: p.yMin,
            max: p.yMax,
            grid: { display: false, drawTicks: false },
            border: { display: false },
            ticks: {
              stepSize: p.yStep,
              padding: 25,
              color: '#000',
              autoSkip: false,
              font: { family: SANS, size: 56, lineHeight: 1 },
              callback: (v: any) => Number(v).toFixed(1),
            },
            title: {
              display: true,
              text: 'I(t)',
              color: '#000',
              font: { family: SANS, size: 66, weight: 'bold', lineHeight: 1 },
              padding: { top: 48, bottom: 0 },
            },
            afterFit: (s: any) => {
              s.width = PLOT_LEFT
            },
          },
        },
      } as any,
      plugins: [decor],
    })

    return () => chart.destroy()
  }, [p])

  return <canvas ref={ref} width={WIDTH} height={p.height} style={{ display: 'block', width: WIDTH, height: p.height }} />
}

const App = () => (
  <div style={{ width: WIDTH, background: '#fff' }}>
    {PANELS.map((p) => (
      <PanelChart key={p.letter} p={p} />
    ))}
  </div>
)

export default App
